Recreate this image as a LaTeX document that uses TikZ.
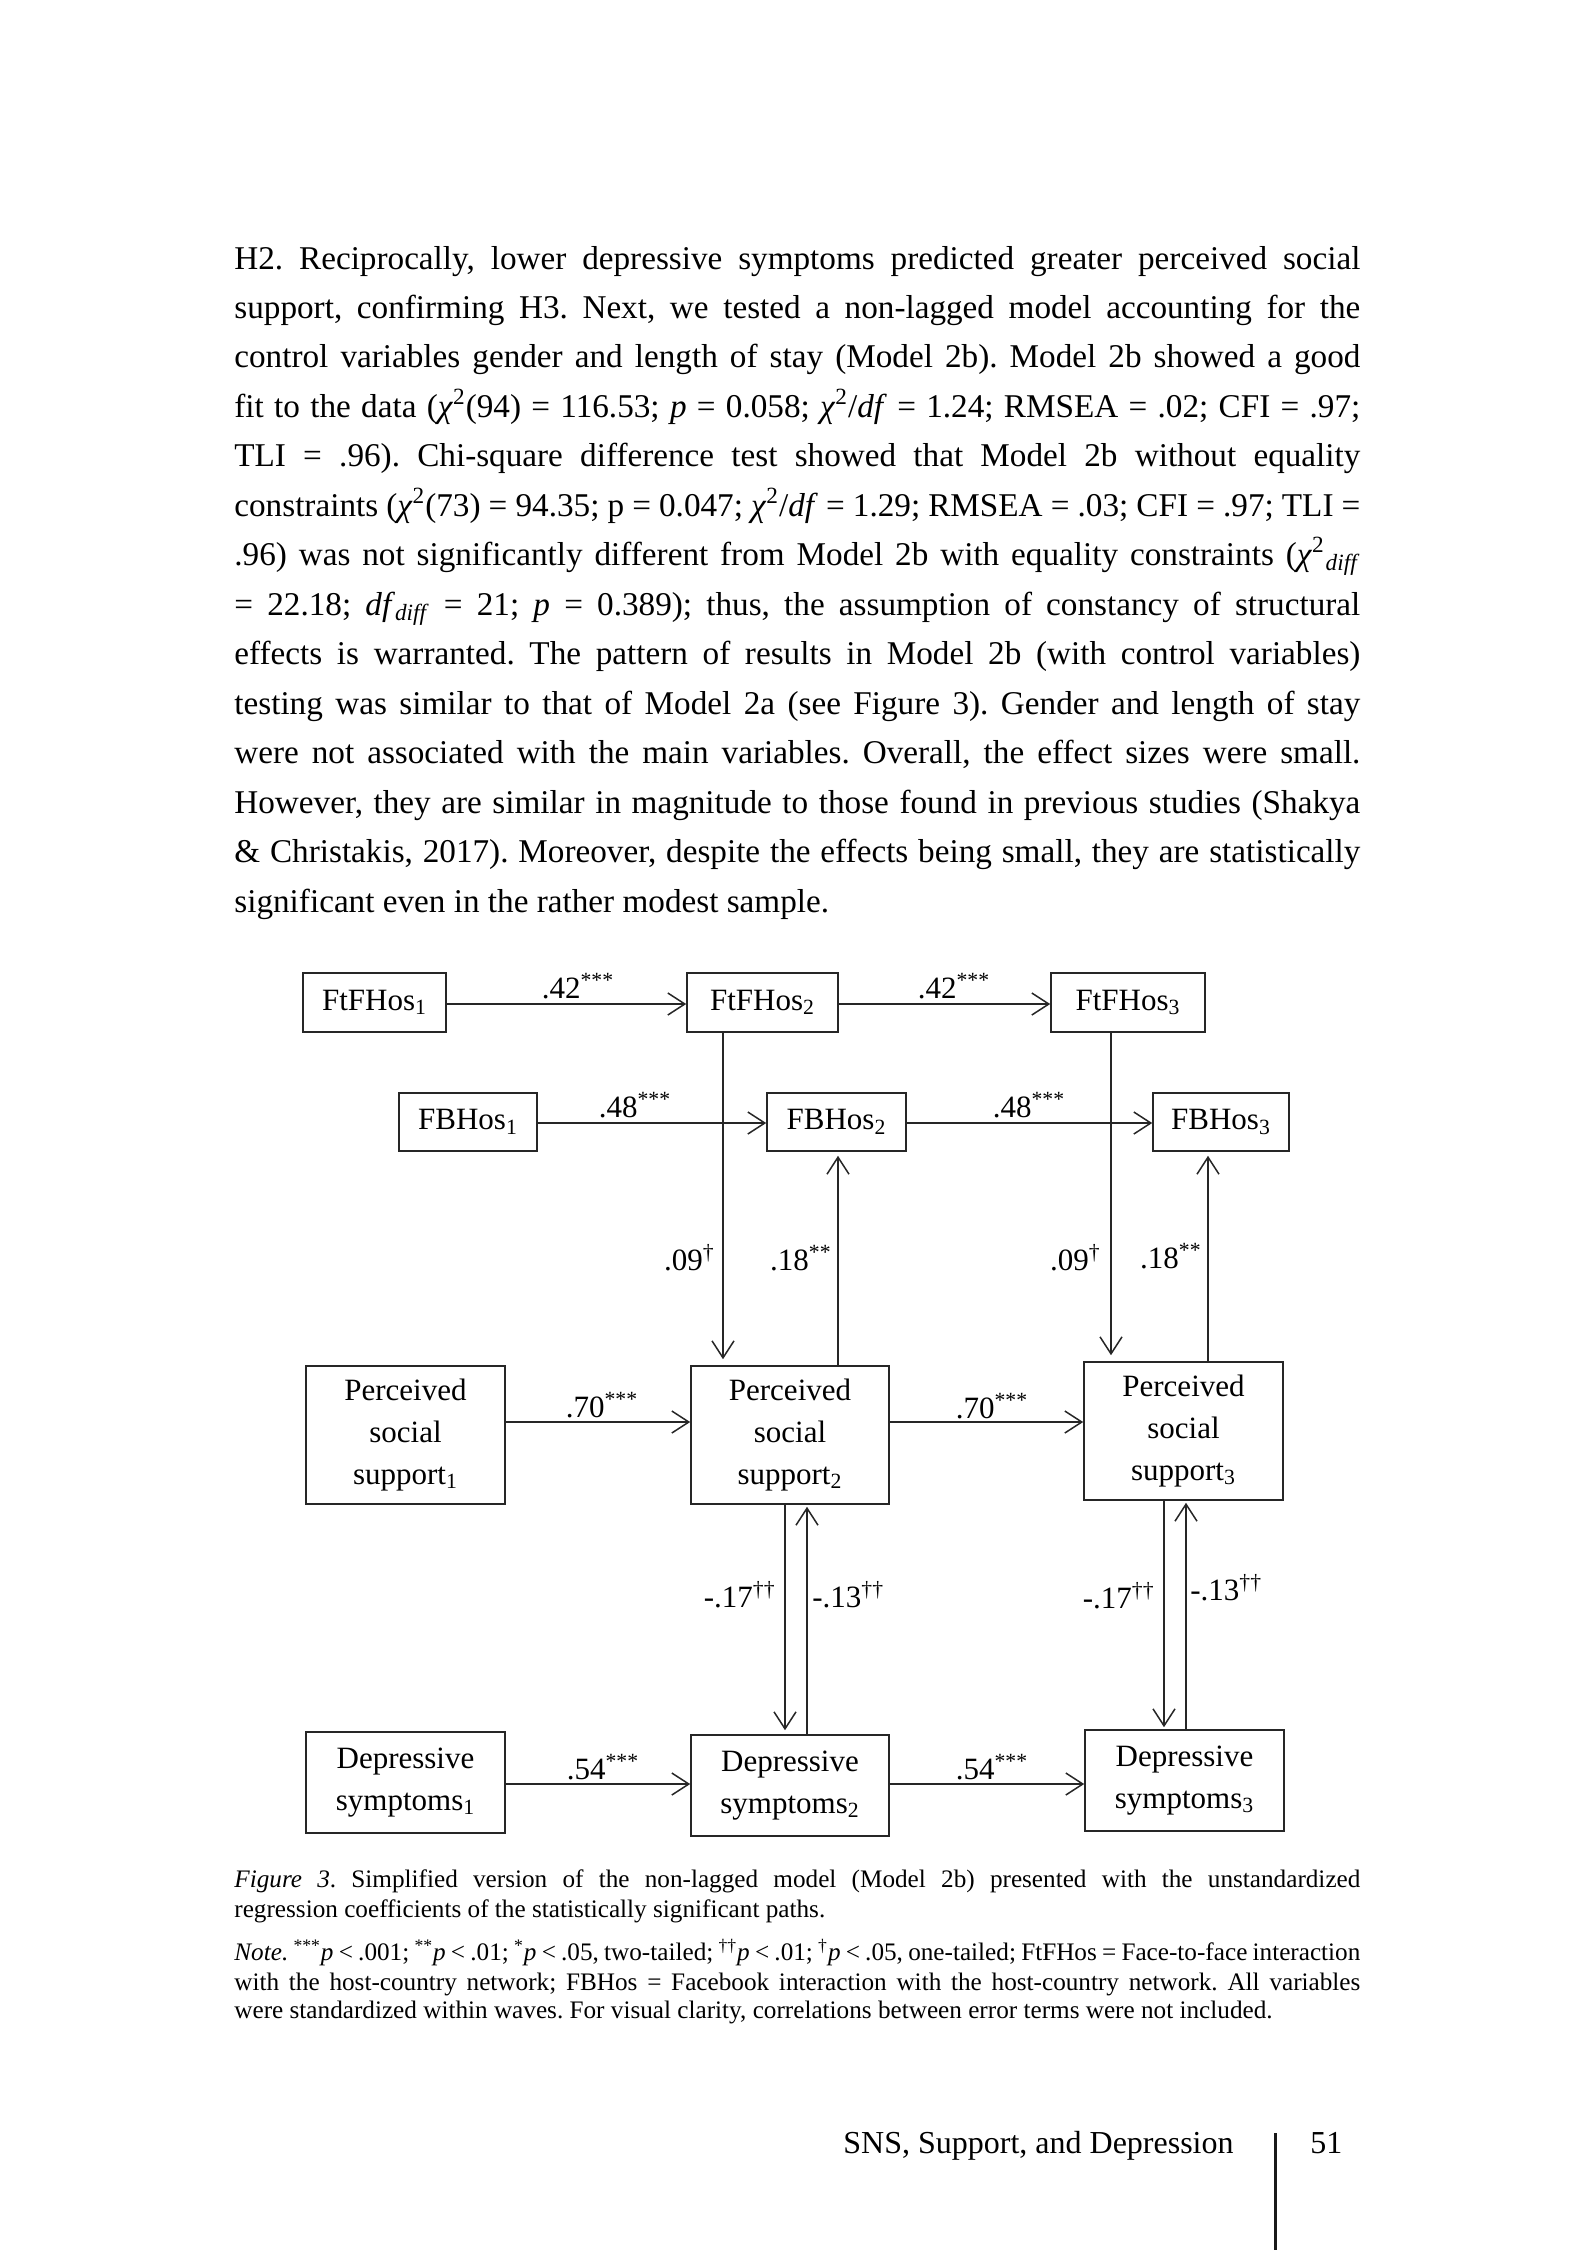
\documentclass[tikz,border=0pt]{standalone}
\usepackage{fontspec}
\setmainfont{Liberation Serif}
\usetikzlibrary{arrows.meta,calc}
\frenchspacing
\newcommand\bline[1]{\makebox[563pt][s]{#1}}
\newcommand\sym{\textit{χ}\textsuperscript{2}}
\tikzset{
  box/.style={draw=black!85, line width=0.8pt, inner sep=0pt, align=center,
    font=\fontsize{15.5pt}{20.8pt}\selectfont},
  arr/.style={draw=black!85, line width=0.75pt,
    -{Straight Barb[length=8.5pt,width=11pt,line width=0.75pt]}},
  lab/.style={inner sep=0pt, font=\fontsize{15.5pt}{18pt}\selectfont},
  bodytxt/.style={anchor=base west, inner sep=0pt, font=\fontsize{16.6pt}{20pt}\selectfont},
  captxt/.style={anchor=base west, inner sep=0pt, font=\fontsize{12.6pt}{15pt}\selectfont},
}
\begin{document}
\begin{tikzpicture}[x=0.5pt,y=-0.5pt]
\useasboundingbox[fill=white] (0,0) rectangle (1594,2250);

% ---------- body text ----------
\node[bodytxt] (t1) at (234,269) {\bline{H2. Reciprocally, lower depressive symptoms predicted greater perceived social}};
\node[bodytxt] (t2) at (234,318) {\bline{support, confirming H3. Next, we tested a non-lagged model accounting for the}};
\node[bodytxt] (t3) at (234,367.5) {\bline{control variables gender and length of stay (Model 2b). Model 2b showed a good}};
\node[bodytxt] (t4) at (234,417) {\bline{fit to the data (\sym(94) = 116.53; \textit{p} = 0.058; \sym/\textit{df} = 1.24; RMSEA = .02; CFI = .97;}};
\node[bodytxt] (t5) at (234,466.5) {\bline{TLI = .96). Chi-square difference test showed that Model 2b without equality}};
\node[bodytxt] (t6) at (234,516) {\bline{constraints (\sym(73) = 94.35; p = 0.047; \sym/\textit{df} = 1.29; RMSEA = .03; CFI = .97; TLI =}};
\node[bodytxt] (t7) at (234,565.5) {\bline{.96) was not significantly different from Model 2b with equality constraints (\sym\hspace{0.5pt}\textsubscript{\textit{diff}}}};
\node[bodytxt] (t8) at (234,615) {\bline{= 22.18; \textit{df}\textsubscript{\textit{diff}} = 21; \textit{p} = 0.389); thus, the assumption of constancy of structural}};
\node[bodytxt] (t9) at (234,664.5) {\bline{effects is warranted. The pattern of results in Model 2b (with control variables)}};
\node[bodytxt] (t10) at (234,714) {\bline{testing was similar to that of Model 2a (see Figure 3). Gender and length of stay}};
\node[bodytxt] (t11) at (234,763.5) {\bline{were not associated with the main variables. Overall, the effect sizes were small.}};
\node[bodytxt] (t12) at (234,813) {\bline{However, they are similar in magnitude to those found in previous studies (Shakya}};
\node[bodytxt] (t13) at (234,862.5) {\bline{\& Christakis, 2017). Moreover, despite the effects being small, they are statistically}};
\node[bodytxt] (t14) at (234,912) {significant even in the rather modest sample.};

% ---------- diagram boxes ----------
\node[box, minimum width=71.5pt, minimum height=29.5pt] (ftf1) at (374.5,1002.5) {FtFHos\textsubscript{1}};
\node[box, minimum width=75.5pt, minimum height=29.5pt] (ftf2) at (762.5,1002.5) {FtFHos\textsubscript{2}};
\node[box, minimum width=77pt, minimum height=29.5pt] (ftf3) at (1128,1002.5) {FtFHos\textsubscript{3}};
\node[box, minimum width=69pt, minimum height=29pt] (fb1) at (468,1122) {FBHos\textsubscript{1}};
\node[box, minimum width=69.5pt, minimum height=29pt] (fb2) at (836.5,1122) {FBHos\textsubscript{2}};
\node[box, minimum width=68pt, minimum height=29pt] (fb3) at (1221,1122) {FBHos\textsubscript{3}};
\node[box, minimum width=99.5pt, minimum height=69pt] (pss1) at (405.5,1435) {Perceived\\social\\support\textsubscript{1}};
\node[box, minimum width=99pt, minimum height=69pt] (pss2) at (790,1435) {Perceived\\social\\support\textsubscript{2}};
\node[box, minimum width=99.5pt, minimum height=69pt] (pss3) at (1183.5,1431) {Perceived\\social\\support\textsubscript{3}};
\node[box, minimum width=99.5pt, minimum height=50.5pt] (ds1) at (405.5,1782.5) {Depressive\\symptoms\textsubscript{1}};
\node[box, minimum width=99pt, minimum height=50.5pt] (ds2) at (790,1785.5) {Depressive\\symptoms\textsubscript{2}};
\node[box, minimum width=99.5pt, minimum height=50.5pt] (ds3) at (1184.5,1780.5) {Depressive\\symptoms\textsubscript{3}};

% ---------- horizontal paths ----------
\draw[arr] (ftf1.east |- 0,1004) -- (ftf2.west |- 0,1004);
\draw[arr] (ftf2.east |- 0,1004) -- (ftf3.west |- 0,1004);
\draw[arr] (fb1.east |- 0,1123) -- (fb2.west |- 0,1123);
\draw[arr] (fb2.east |- 0,1123) -- (fb3.west |- 0,1123);
\draw[arr] (pss1.east |- 0,1422) -- (pss2.west |- 0,1422);
\draw[arr] (pss2.east |- 0,1422) -- (pss3.west |- 0,1422);
\draw[arr] (ds1.east |- 0,1784) -- (ds2.west |- 0,1784);
\draw[arr] (ds2.east |- 0,1784) -- (ds3.west |- 0,1784);

% ---------- vertical paths ----------
\draw[arr, shorten >=3pt] (ftf2.south -| 723,0) -- (pss2.north -| 723,0);
\draw[arr, shorten >=2pt] (pss2.north -| 838,0) -- (fb2.south -| 838,0);
\draw[arr, shorten >=3pt] (ftf3.south -| 1111,0) -- (pss3.north -| 1111,0);
\draw[arr, shorten >=2pt] (pss3.north -| 1208,0) -- (fb3.south -| 1208,0);
\draw[arr, shorten >=2pt] (pss2.south -| 785,0) -- (ds2.north -| 785,0);
\draw[arr, shorten >=1pt] (ds2.north -| 807,0) -- (pss2.south -| 807,0);
\draw[arr, shorten >=1pt] (pss3.south -| 1164,0) -- (ds3.north -| 1164,0);
\draw[arr, shorten >=1pt] (ds3.north -| 1186,0) -- (pss3.south -| 1186,0);

% ---------- path labels ----------
\node[lab, anchor=base] (l42a) at (578,998) {.42\textsuperscript{***}};
\node[lab, anchor=base] (l42b) at (954,998) {.42\textsuperscript{***}};
\node[lab, anchor=base] (l48a) at (635,1117) {.48\textsuperscript{***}};
\node[lab, anchor=base] (l48b) at (1029,1117) {.48\textsuperscript{***}};
\node[lab, anchor=base] (l70a) at (602,1417) {.70\textsuperscript{***}};
\node[lab, anchor=base] (l70b) at (992,1418) {.70\textsuperscript{***}};
\node[lab, anchor=base] (l54a) at (603,1779) {.54\textsuperscript{***}};
\node[lab, anchor=base] (l54b) at (992,1779) {.54\textsuperscript{***}};
\node[lab, anchor=base east] (l09a) at (715,1270) {.09\textsuperscript{\textdagger}};
\node[lab, anchor=base east] (l18a) at (832,1270) {.18\textsuperscript{**}};
\node[lab, anchor=base east] (l09b) at (1101,1270) {.09\textsuperscript{\textdagger}};
\node[lab, anchor=base east] (l18b) at (1202,1268) {.18\textsuperscript{**}};
\node[lab, anchor=base east] (l17a) at (776,1607) {-.17\textsuperscript{\textdagger\textdagger}};
\node[lab, anchor=base west] (l13a) at (812,1607) {-.13\textsuperscript{\textdagger\textdagger}};
\node[lab, anchor=base east] (l17b) at (1155,1608) {-.17\textsuperscript{\textdagger\textdagger}};
\node[lab, anchor=base west] (l13b) at (1190,1600) {-.13\textsuperscript{\textdagger\textdagger}};

% ---------- caption ----------
\node[captxt] (c1) at (234,1887) {\bline{\textit{Figure 3}. Simplified version of the non-lagged model (Model 2b) presented with the unstandardized}};
\node[captxt] (c2) at (234,1917) {regression coefficients of the statistically significant paths.};
\node[captxt] (c3) at (234,1960) {\bline{\textit{Note.} \textsuperscript{***}\textit{p} < .001; \textsuperscript{**}\textit{p} < .01; \textsuperscript{*}\textit{p} < .05, two-tailed; \textsuperscript{\textdagger\textdagger}\textit{p} < .01; \textsuperscript{\textdagger}\textit{p} < .05, one-tailed; FtFHos = Face-to-face interaction}};
\node[captxt] (c4) at (234,1990) {\bline{with the host-country network; FBHos = Facebook interaction with the host-country network. All variables}};
\node[captxt] (c5) at (234,2018) {were standardized within waves. For visual clarity, correlations between error terms were not included.};

% ---------- footer ----------
\node[anchor=base west, inner sep=0pt, font=\fontsize{16pt}{19pt}\selectfont] (runhead) at (843,2153) {SNS, Support, and Depression};
\node[anchor=base west, inner sep=0pt, font=\fontsize{16pt}{19pt}\selectfont] (pagenum) at (1310,2153) {51};
\coordinate (bartop) at (1275,2133);
\coordinate (barbot) at (1275,2250);
\draw[line width=1.5pt, black!90] (bartop) -- (barbot);
\end{tikzpicture}
\end{document}
